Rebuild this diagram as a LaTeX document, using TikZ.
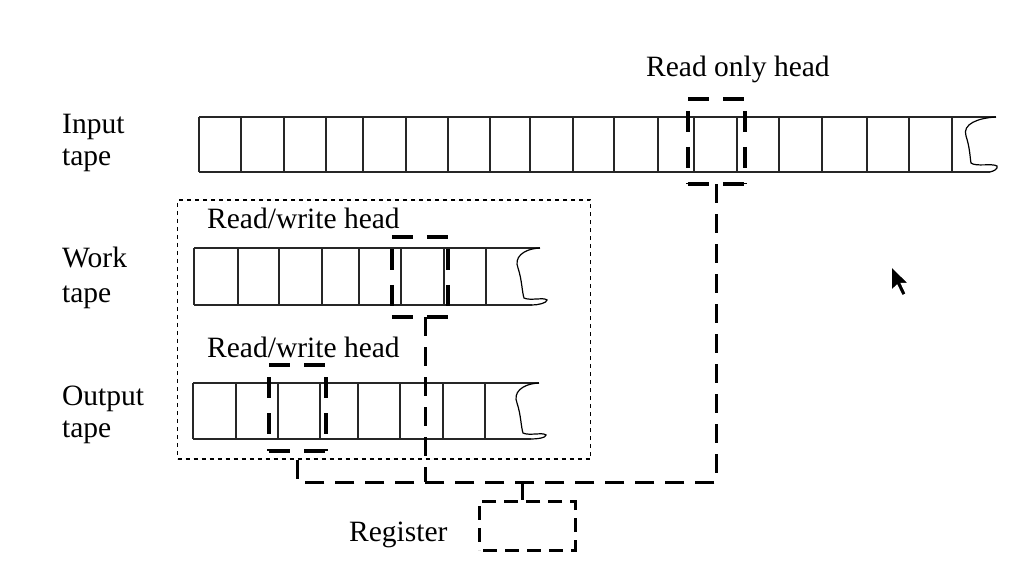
\documentclass[tikz,border=0pt]{standalone}
\usepackage{fontspec}
\setmainfont{Liberation Serif}
\newcommand{\dhead}[1]{%
  \draw[hb,dash pattern=on 21pt off 14pt] (#1.north west) -- (#1.north east);
  \draw[hb,dash pattern=on 21pt off 14pt] (#1.south west) -- (#1.south east);
  \draw[hb,dash pattern=on 21pt off 15pt,dash phase=24pt] (#1.north west) -- (#1.south west);
  \draw[hb,dash pattern=on 21pt off 15pt,dash phase=24pt] (#1.north east) -- (#1.south east);}
\begin{document}
\begin{tikzpicture}[x=1pt,y=-1pt,
  lbl/.style={inner sep=0pt,font=\fontsize{29.5}{34}\selectfont,align=left},
  tapeline/.style={line width=1.4pt,black!85},
  squig/.style={line width=1.2pt},
  headnode/.style={inner sep=0pt},
  hb/.style={line width=4.2pt,line cap=butt},
  regbox/.style={draw,line width=3pt,dash pattern=on 14pt off 8pt,dash phase=-4pt,inner sep=0pt},
  conn/.style={line width=3pt,dash pattern=on 19pt off 11pt},
  dotbox/.style={draw,line width=1.1pt,dash pattern=on 4pt off 4pt},
  cursor/.style={fill=black,draw=white,line width=1.5pt,line join=miter}]
\useasboundingbox (0,0) rectangle (1014,572);

% ---------- input tape ----------
\draw[tapeline] (199,117) -- (996,117);
\draw[tapeline] (199,172) -- (990,172);
\foreach \x in {199,241,284,326,363,406,448,490,530,573,614,658,694,737,779,822,867,909,952}
  \draw[tapeline] (\x,117) -- (\x,172);
\draw[squig] (996,117) .. controls (978,118) and (962,124) .. (966,136)
  .. controls (970,148) and (970,158) .. (971,163)
  .. controls (976,167) and (992,163) .. (997,166)
  .. controls (998,169) and (994,171) .. (990,172);

% ---------- work tape ----------
\draw[tapeline] (194,248) -- (540,248);
\draw[tapeline] (194,305) -- (532,305);
\foreach \x in {194,238,279,322,359,401,444,486}
  \draw[tapeline] (\x,248) -- (\x,305);
\draw[squig] (540,248) .. controls (522,249) and (514,258) .. (518,268)
  .. controls (522,280) and (522,292) .. (524,298)
  .. controls (530,301) and (544,297) .. (547,300)
  .. controls (547,303) and (538,305) .. (532,305);

% ---------- output tape ----------
\draw[tapeline] (193,383) -- (539,383);
\draw[tapeline] (193,439) -- (531,439);
\foreach \x in {193,236,278,320,358,400,443,485}
  \draw[tapeline] (\x,383) -- (\x,439);
\draw[squig] (539,383) .. controls (521,384) and (513,393) .. (517,403)
  .. controls (521,415) and (521,427) .. (523,433)
  .. controls (529,436) and (543,432) .. (546,435)
  .. controls (546,438) and (537,439) .. (531,439);

% ---------- dotted enclosure ----------
\node[dotbox,inner sep=0pt,minimum width=413pt,minimum height=259pt] (enc) at (384,329.5) {};

% ---------- heads ----------
\node[headnode,minimum width=56pt,minimum height=85pt] (rohead) at (716.5,141.5) {};
\node[headnode,minimum width=56pt,minimum height=80pt] (wkhead) at (420,277) {};
\node[headnode,minimum width=56pt,minimum height=85pt] (ouhead) at (297.5,408) {};
\dhead{rohead}
\dhead{wkhead}
\dhead{ouhead}
\node[regbox,minimum width=96pt,minimum height=49pt] (reg) at (527,525.5) {};

% ---------- connectors ----------
\coordinate (busR) at (rohead.south |- 0,482);
\coordinate (busL) at (ouhead.south |- 0,482);
\coordinate (busW) at (425,482);
\coordinate (busG) at (522,482);
\draw[conn] (rohead.south) -- (busR) -- (busL) -- (ouhead.south);
\draw[conn] (wkhead.south -| busW) -- (busW);
\draw[conn] (busG) -- (busG |- reg.north);

% ---------- labels ----------
\node[lbl,anchor=base west] (lin) at (62,134) {Input};
\node[lbl,anchor=base west] (lint) at (62,166) {tape};
\node[lbl,anchor=base west] (lwk) at (62,267) {Work};
\node[lbl,anchor=base west] (lwkt) at (62,302) {tape};
\node[lbl,anchor=base west] (lou) at (62,405) {Output};
\node[lbl,anchor=base west] (lout) at (62,437) {tape};
\node[lbl,anchor=base west] (lro) at (646,77) {Read only head};
\node[lbl,anchor=base west] (lrw1) at (207,228) {Read/write head};
\node[lbl,anchor=base west] (lrw2) at (207,357) {Read/write head};
\node[lbl,anchor=base west] (lreg) at (349,541) {Register};

% ---------- mouse cursor ----------
\draw[cursor] (891,266) -- (891,291) -- (897,285.5) -- (902,296) -- (906.5,294) -- (901.5,283.5) -- (909,283.5) -- cycle;
\end{tikzpicture}
\end{document}
